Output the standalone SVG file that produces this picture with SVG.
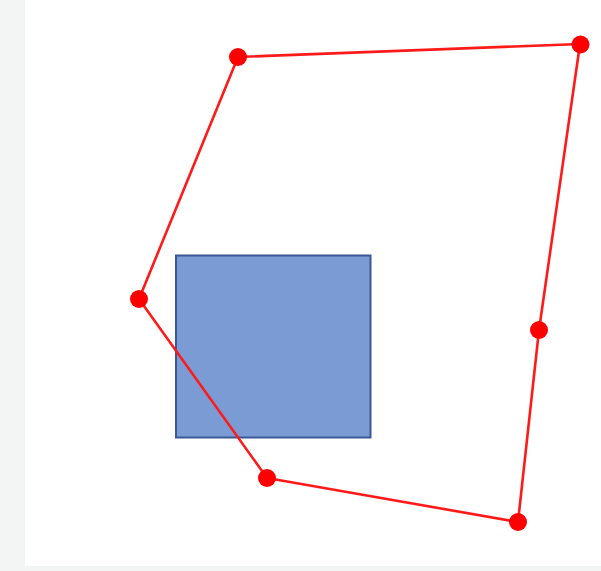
<svg xmlns="http://www.w3.org/2000/svg" width="601" height="571" viewBox="0 0 601 571">
<style>
.pt{fill:#ff0000}
.edge{fill:none;stroke:#ff1a1a;stroke-width:2.6;stroke-linejoin:round}
</style>
<rect x="0" y="0" width="601" height="571" fill="#f3f5f5"/>
<rect x="25" y="0" width="576" height="566" fill="#ffffff"/>
<g id="square">
<rect x="176" y="255.5" width="194.5" height="182" fill="#7a9bd4" stroke="#3b5894" stroke-width="2"/>
</g>
<g id="connectors">
<polygon class="edge" points="238,57 580,44 539,330 518,522 267,478 139,299"/>
</g>
<g id="p1"><circle class="pt" cx="238" cy="57" r="9"/></g>
<g id="p2"><circle class="pt" cx="580.5" cy="44.5" r="9"/></g>
<g id="p3"><circle class="pt" cx="539" cy="330" r="9"/></g>
<g id="p4"><circle class="pt" cx="518" cy="522" r="9"/></g>
<g id="p5"><circle class="pt" cx="267" cy="478" r="9"/></g>
<g id="p6"><circle class="pt" cx="139" cy="299" r="9"/></g>
</svg>
